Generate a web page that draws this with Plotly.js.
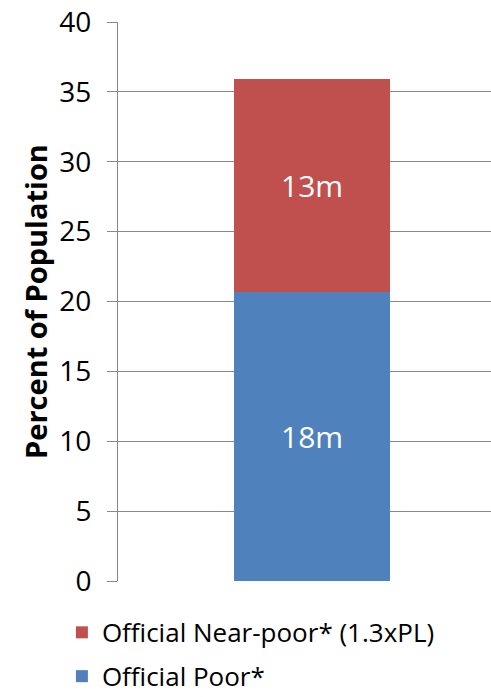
<!DOCTYPE html>
<html>
<head>
<meta charset="utf-8">
<script src="https://cdn.plot.ly/plotly-3.0.1.min.js"></script>
<style>html,body{margin:0;padding:0;background:#fff}#chart{width:491px;height:697px}</style>
</head>
<body>
<div id="chart"></div>
<script>
const categories = [0];
const seriesNames = ["Official Poor*", "Official Near-poor* (1.3xPL)"];
const poorValues = [20.7];
const nearPoorValues = [15.2];
const poorLabels = ["18m"];
const nearPoorLabels = ["13m"];
const colors = ["#4F81BD", "#C0504D"];
const yTicks = [0, 5, 10, 15, 20, 25, 30, 35, 40];

const font = "'Open Sans', Lato, sans-serif";

const traces = [
  {type: "bar", x: categories, y: poorValues, name: seriesNames[0], width: 1, legendgroup: "poor", legendrank: 2,
   marker: {color: colors[0]}, text: poorLabels, textposition: "inside",
   insidetextanchor: "middle", textfont: {color: "#fff", size: 30, family: font}, hoverinfo: "none"},
  {type: "bar", x: categories, y: nearPoorValues, name: seriesNames[1], width: 1, legendgroup: "near", legendrank: 1,
   marker: {color: colors[1]}, text: nearPoorLabels, textposition: "inside",
   insidetextanchor: "middle", textfont: {color: "#fff", size: 30, family: font}, hoverinfo: "none"}
];

const layout = {
  width: 491, height: 697,
  margin: {l: 118, r: 0, t: 22, b: 116, autoexpand: false},
  barmode: "stack",
  paper_bgcolor: "#fff", plot_bgcolor: "#fff",
  font: {family: font, color: "#000"},
  xaxis: {range: [-1.244, 1.147], showticklabels: false, showgrid: false, zeroline: false,
          ticks: "", showline: false, fixedrange: true},
  yaxis: {range: [0, 40], tickvals: yTicks, showgrid: true, gridcolor: "#888888", gridwidth: 1,
          zeroline: false, showline: true, linecolor: "#888888", linewidth: 1,
          ticks: "outside", ticklen: 10, tickcolor: "#888888", tickfont: {size: 28, family: font},
          ticklabelstandoff: 10,
          title: {text: "<b>Percent of Population</b>", font: {size: 29, family: font}, standoff: 3}},
  showlegend: true,
  legend: {orientation: "v", traceorder: "grouped",
           x: -0.1504, xanchor: "left", y: -0.05, yanchor: "top",
           font: {size: 26, family: font}, itemwidth: 30, tracegroupgap: 7, bgcolor: "rgba(0,0,0,0)"}
};

Plotly.newPlot("chart", traces, layout, {displayModeBar: false, staticPlot: true});
</script>
</body>
</html>
